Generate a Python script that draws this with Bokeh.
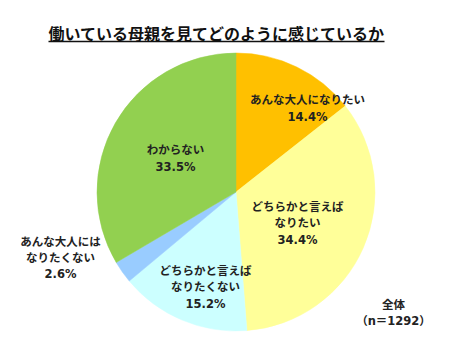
import math
from bokeh.plotting import figure
from bokeh.models import Range1d, ColumnDataSource
from bokeh.core.properties import value
from bokeh.embed import file_html
from bokeh.resources import INLINE

# ---- data ----
categories = ["あんな大人になりたい", "どちらかと言えば\nなりたい", "どちらかと言えば\nなりたくない",
              "あんな大人には\nなりたくない", "わからない"]
shares = [14.4, 34.4, 15.2, 2.6, 33.5]
colors = ["#FFC000", "#FFFF99", "#CCFFFF", "#99CCFF", "#92D050"]
title_text = "働いている母親を見てどのように感じているか"
note_text = "全体\n（n＝1292）"

# ---- layout (pixel positions on page) ----
cx, cy, r = 235.5, 191.5, 139
label_pos = [(307, 108), (297, 223), (205, 287), (60, 257.5), (175, 158)]
FONT = "'DejaVu Sans', 'Noto Sans CJK JP'"
TFONT = "Noto Sans CJK JP"
LH = 1.17

W, H = 436, 340
p = figure(width=W, height=H, output_backend="svg", toolbar_location=None,
           x_range=Range1d(0, W), y_range=Range1d(-H, 0),
           min_border=0)
p.axis.visible = False
p.grid.visible = False
p.outline_line_color = None
p.background_fill_color = "white"
p.border_fill_color = "white"

total = sum(shares)
starts, ends = [], []
cum = 0.0
for s in shares:
    starts.append(math.pi / 2 - 2 * math.pi * cum / total)
    cum += s
    ends.append(math.pi / 2 - 2 * math.pi * cum / total)

src = ColumnDataSource(dict(x=[cx] * len(shares), y=[-cy] * len(shares),
                            start=starts, end=ends, color=colors))
p.wedge(x="x", y="y", radius=r, start_angle="start", end_angle="end",
        direction="clock", fill_color="color", line_color="color",
        line_width=0.5, source=src)

labels = [f"{c}\n{s:.1f}%" for c, s in zip(categories, shares)]
lsrc = ColumnDataSource(dict(x=[q[0] for q in label_pos], y=[-q[1] for q in label_pos],
                             t=labels))
p.text(x="x", y="y", text="t", source=lsrc, text_font=value(FONT),
       text_font_style="bold", text_font_size="11.5px", text_color="#222222",
       text_align="center", text_baseline="middle", text_line_height=LH)

p.text(x=[393], y=[-312.5], text=[note_text], text_font=value(FONT),
       text_font_style="bold", text_font_size="11.5px", text_color="#222222",
       text_align="center", text_baseline="middle", text_line_height=LH)

# title with underline
p.text(x=[216], y=[-32], text=[title_text], text_font=value(TFONT),
       text_font_style="bold", text_font_size="16px", text_color="#111111",
       text_align="center", text_baseline="middle")
p.line(x=[48, 384], y=[-41, -41], line_color="#111111", line_width=1.5)

open("out.html", "w").write(file_html(p, INLINE))
